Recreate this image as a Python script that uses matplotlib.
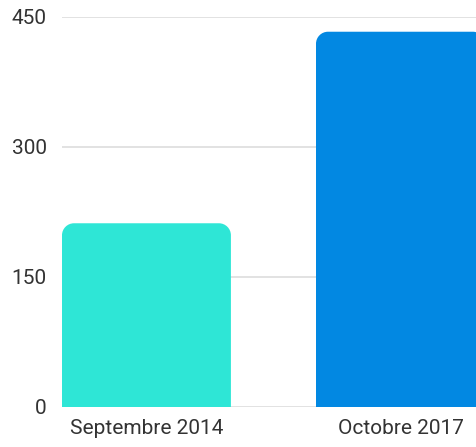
import matplotlib
matplotlib.use("Agg")
import matplotlib.pyplot as plt
from matplotlib.path import Path
from matplotlib.patches import PathPatch

# Data
categories = ["Septembre 2014", "Octobre 2017"]
values = [212, 433]
colors = ["#2ee6d6", "#0288e2"]
yticks = [0, 150, 300, 450]

plt.rcParams['font.family'] = ['Roboto', 'DejaVu Sans']

W, H = 476, 447
fig = plt.figure(figsize=(W / 100, H / 100), dpi=100)
ax = fig.add_axes([62 / W, 40 / H, (W - 62) / W, 390 / H])

bar_w = 0.665
xs = list(range(len(categories)))
ax.set_xlim(-bar_w / 2, -bar_w / 2 + (W - 62) / 254)
ax.set_ylim(0, 450)

# Gridlines
ax.set_yticks(yticks)
ax.grid(axis='y', color='#dddddd', linewidth=1.2)
ax.set_axisbelow(True)
for s in ax.spines.values():
    s.set_visible(False)

# Rounded-top bars (radius in pixels converted to data units)
r_px = 12
rx = r_px / 254
ry = r_px * 450 / 390
for x, v, c in zip(xs, values, colors):
    x0, x1 = x - bar_w / 2, x + bar_w / 2
    k = 0.5523
    verts = [
        (x0, 0), (x0, v - ry),
        (x0, v - ry + k * ry), (x0 + rx - k * rx, v), (x0 + rx, v),
        (x1 - rx, v),
        (x1 - rx + k * rx, v), (x1, v - ry + k * ry), (x1, v - ry),
        (x1, 0), (x0, 0),
    ]
    codes = [Path.MOVETO, Path.LINETO,
             Path.CURVE4, Path.CURVE4, Path.CURVE4,
             Path.LINETO,
             Path.CURVE4, Path.CURVE4, Path.CURVE4,
             Path.LINETO, Path.CLOSEPOLY]
    ax.add_patch(PathPatch(Path(verts, codes), facecolor=c, edgecolor='none', zorder=2))

ax.set_xticks(xs)
ax.set_xticklabels(categories)
ax.tick_params(axis='both', length=0, labelsize=15, colors='#333333')
ax.tick_params(axis='x', pad=9)
ax.tick_params(axis='y', pad=11)

fig.savefig("out.png", dpi=100)
